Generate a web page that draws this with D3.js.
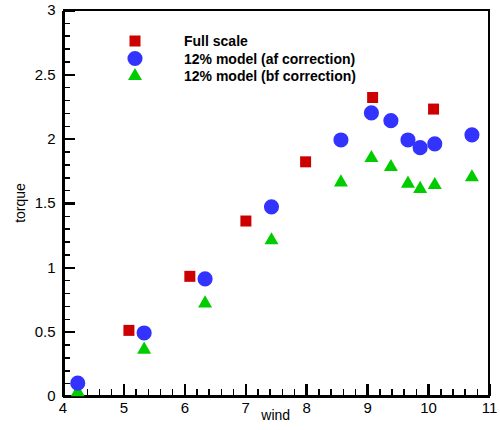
<!DOCTYPE html>
<html>
<head>
<meta charset="utf-8">
<script src="https://cdn.jsdelivr.net/npm/d3@7"></script>
<style>
  body { margin: 0; background: #fff; }
  svg { display: block; font-family: "Liberation Sans", Arial, sans-serif; }
</style>
</head>
<body>
<svg id="chart" width="500" height="430"></svg>
<script>
// data
const fullWind = [5.09, 6.09, 7.01, 7.99, 9.09, 10.09];
const fullTorque = [0.51, 0.93, 1.36, 1.82, 2.32, 2.23];

const modelWind = [4.25, 5.34, 6.34, 7.43, 8.57, 9.07, 9.39, 9.67, 9.87, 10.11, 10.72];
const afTorque = [0.10, 0.49, 0.91, 1.47, 1.99, 2.20, 2.14, 1.99, 1.93, 1.96, 2.03];
const bfTorque = [0.03, 0.36, 0.72, 1.21, 1.66, 1.85, 1.78, 1.65, 1.61, 1.64, 1.70];

const xTicks = [4, 5, 6, 7, 8, 9, 10, 11];
const yTicks = [0, 0.5, 1, 1.5, 2, 2.5, 3];

const legendLabels = ["Full scale", "12% model (af correction)", "12% model (bf correction)"];

const svg = d3.select("#chart");

const x = d3.scaleLinear().domain([4, 11]).range([62.5, 489]);
const y = d3.scaleLinear().domain([0, 3]).range([396, 10]);

// minor tick positions
const xMinor = d3.range(4.2, 11, 0.2).filter(v => Math.abs(v - Math.round(v)) > 0.01);
const yMinor = d3.range(0.1, 3, 0.1).filter(v => Math.abs(v * 2 - Math.round(v * 2)) > 0.01);

// x axis: ticks point inward, labels below
svg.append("g")
  .attr("transform", `translate(0,${y(0)})`)
  .attr("shape-rendering", "crispEdges")
  .call(d3.axisBottom(x).tickValues(xMinor).tickSize(-7).tickSizeOuter(0).tickFormat(""))
  .call(g => g.select(".domain").remove())
  .call(g => g.selectAll("line").attr("stroke", "#000").attr("stroke-width", 1.5));
svg.append("g")
  .attr("transform", `translate(0,${y(0)})`)
  .attr("shape-rendering", "crispEdges")
  .call(d3.axisBottom(x).tickValues(xTicks).tickSize(-12).tickSizeOuter(0).tickPadding(6).tickFormat(d3.format("d")))
  .call(g => g.select(".domain").attr("stroke", "#000").attr("stroke-width", 3))
  .call(g => g.selectAll("line").attr("stroke", "#000").attr("stroke-width", 2.5))
  .call(g => g.selectAll("text").attr("font-size", 15).attr("fill", "#000")
    .attr("font-family", "Liberation Sans, Arial, sans-serif"));

// y axis
svg.append("g")
  .attr("transform", `translate(${x(4)},0)`)
  .attr("shape-rendering", "crispEdges")
  .call(d3.axisLeft(y).tickValues(yMinor).tickSize(-7).tickSizeOuter(0).tickFormat(""))
  .call(g => g.select(".domain").remove())
  .call(g => g.selectAll("line").attr("stroke", "#000").attr("stroke-width", 1.5));
svg.append("g")
  .attr("transform", `translate(${x(4)},0)`)
  .attr("shape-rendering", "crispEdges")
  .call(d3.axisLeft(y).tickValues(yTicks).tickSize(-12).tickSizeOuter(0).tickPadding(7).tickFormat(d3.format("")))
  .call(g => g.select(".domain").attr("stroke", "#000").attr("stroke-width", 3))
  .call(g => g.selectAll("line").attr("stroke", "#000").attr("stroke-width", 2.5))
  .call(g => g.selectAll("text").attr("font-size", 15).attr("fill", "#000")
    .attr("font-family", "Liberation Sans, Arial, sans-serif"));

// frame top / right
svg.append("path")
  .attr("d", `M${x(4)},${y(3)}H${x(11)}V${y(0)}`)
  .attr("shape-rendering", "crispEdges")
  .attr("fill", "none").attr("stroke", "#000").attr("stroke-width", 2.5);

// axis titles
svg.append("text")
  .attr("x", x(7.5)).attr("y", 420)
  .attr("text-anchor", "middle").attr("font-size", 14)
  .text("wind");
svg.append("text")
  .attr("transform", `translate(25,${y(1.5)}) rotate(-90)`)
  .attr("text-anchor", "middle").attr("font-size", 14)
  .text("torque");

const square = d3.symbol().type(d3.symbolSquare).size(121);
const circle = d3.symbol().type(d3.symbolCircle).size(180);
const triangle = d3.symbol().type(d3.symbolTriangle).size(85);

const plot = svg.append("g");

plot.selectAll(".bf").data(modelWind).join("path")
  .attr("class", "bf")
  .attr("d", triangle)
  .attr("transform", (d, i) => `translate(${x(d)},${y(bfTorque[i])})`)
  .attr("fill", "#00cc00");

plot.selectAll(".af").data(modelWind).join("path")
  .attr("class", "af")
  .attr("d", circle)
  .attr("transform", (d, i) => `translate(${x(d)},${y(afTorque[i])})`)
  .attr("fill", "#3333ff");

plot.selectAll(".full").data(fullWind).join("path")
  .attr("class", "full")
  .attr("d", square)
  .attr("transform", (d, i) => `translate(${x(d)},${y(fullTorque[i])})`)
  .attr("fill", "#cc0000");

// legend
const legendSymbols = [square, circle, triangle];
const legendColors = ["#cc0000", "#3333ff", "#00cc00"];
const legend = svg.append("g");
legendLabels.forEach((label, i) => {
  const ly = 41 + i * 17.5;
  legend.append("path")
    .attr("d", legendSymbols[i])
    .attr("transform", `translate(135,${ly})`)
    .attr("fill", legendColors[i]);
  legend.append("text")
    .attr("x", 184).attr("y", ly + 5)
    .attr("font-size", 14).attr("font-weight", "bold")
    .text(label);
});
</script>
</body>
</html>
